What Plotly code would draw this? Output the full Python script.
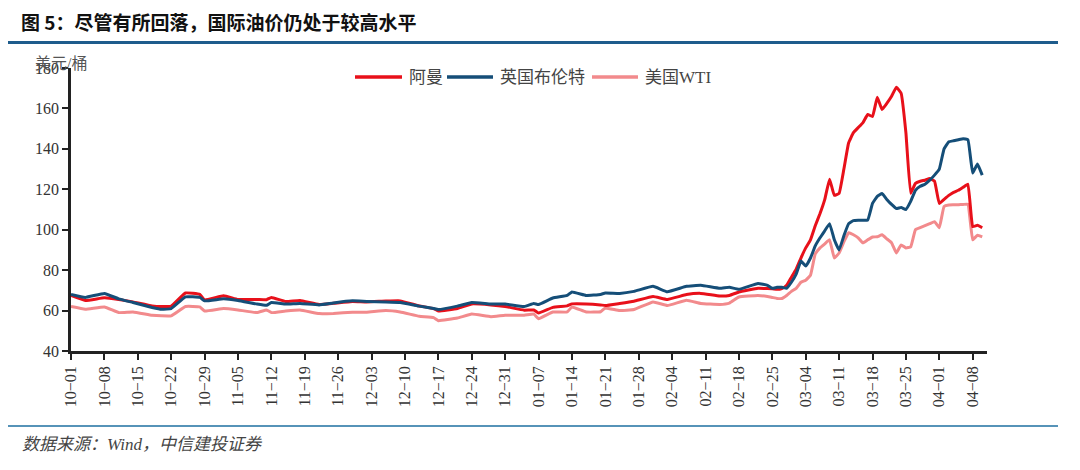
import plotly.graph_objects as go
import pandas as pd

# ---- data ----
dates = [
    "2021-10-01", "2021-10-04", "2021-10-08", "2021-10-11", "2021-10-14", "2021-10-18",
    "2021-10-20", "2021-10-22", "2021-10-25", "2021-10-28", "2021-10-29", "2021-11-02",
    "2021-11-05", "2021-11-09", "2021-11-11", "2021-11-12", "2021-11-15", "2021-11-18",
    "2021-11-22", "2021-11-25", "2021-11-29", "2021-12-02", "2021-12-06", "2021-12-09",
    "2021-12-13", "2021-12-16", "2021-12-17", "2021-12-21", "2021-12-24", "2021-12-28",
    "2021-12-31", "2022-01-04", "2022-01-06", "2022-01-07", "2022-01-10", "2022-01-13",
    "2022-01-14", "2022-01-17", "2022-01-20", "2022-01-21", "2022-01-24", "2022-01-27",
    "2022-01-31", "2022-02-03", "2022-02-07", "2022-02-10", "2022-02-14", "2022-02-16",
    "2022-02-18", "2022-02-22",
    "2022-02-24", "2022-02-25", "2022-02-26", "2022-02-27", "2022-02-28",
    "2022-03-01", "2022-03-02", "2022-03-03", "2022-03-04", "2022-03-05", "2022-03-06",
    "2022-03-07", "2022-03-08", "2022-03-09", "2022-03-10", "2022-03-11", "2022-03-12",
    "2022-03-13", "2022-03-14", "2022-03-15", "2022-03-16", "2022-03-17", "2022-03-18",
    "2022-03-19", "2022-03-20", "2022-03-21", "2022-03-22", "2022-03-23", "2022-03-24",
    "2022-03-25", "2022-03-26", "2022-03-27", "2022-03-28", "2022-03-29", "2022-03-30",
    "2022-03-31", "2022-04-01", "2022-04-02", "2022-04-03", "2022-04-04", "2022-04-05",
    "2022-04-06", "2022-04-07", "2022-04-08", "2022-04-09", "2022-04-10",
]

oman = [
    67.5, 65.0, 66.3, 65.5, 64.3, 62.3, 62.0, 62.2, 68.7, 68.0, 65.3, 67.3,
    65.5, 65.5, 65.4, 66.5, 64.5, 65.0, 63.0, 63.6, 64.5, 64.3, 64.7, 64.8,
    62.3, 61.0, 59.8, 61.0, 63.3, 62.8, 62.0, 60.2, 60.3, 58.8, 61.6, 62.3,
    63.3, 63.3, 62.8, 62.5, 63.5, 64.6, 67.0, 65.5, 67.9, 68.5, 67.2, 67.5,
    69.2, 71.0,
    70.9, 70.8, 70.5, 70.9, 72.5,
    76.5, 80.5, 86.0, 91.0, 95.0, 102.0,
    108.0, 115.0, 125.0, 117.0, 118.0, 130.0,
    143.0, 148.0, 150.5, 153.0, 157.0, 156.0,
    165.5, 159.5, 162.5, 166.0, 170.5, 167.5,
    148.0, 118.0, 122.9, 124.0, 124.5, 125.3,
    124.0, 113.0, 115.0, 117.0, 118.5, 119.5,
    121.0, 122.5, 101.5, 102.2, 101.0,
]

brent = [
    68.0, 66.5, 68.5, 65.8, 64.0, 61.5, 60.6, 61.0, 66.8, 66.5, 64.8, 65.8,
    65.0, 63.2, 62.6, 64.0, 63.2, 63.5, 62.8, 63.8, 64.8, 64.5, 64.3, 64.0,
    62.2, 61.0, 60.5, 62.2, 64.0, 63.2, 63.2, 62.0, 63.5, 63.0, 66.2, 67.5,
    69.2, 67.5, 68.0, 68.7, 68.5, 69.5, 72.0, 69.3, 72.0, 72.5, 71.0, 71.5,
    70.5, 73.4,
    72.5, 71.0, 71.5, 71.5, 71.0,
    74.0, 78.0, 84.5, 82.0, 86.0, 92.0,
    96.0, 99.5, 103.0, 95.0, 90.0, 97.0,
    103.0, 104.5, 104.7, 104.7, 104.8, 113.0,
    116.5, 117.9, 115.0, 112.5, 110.5, 111.0,
    110.0, 114.0, 119.5, 121.5, 122.5, 124.5,
    127.0, 130.0, 140.0, 143.5, 144.0, 144.5,
    145.0, 144.5, 128.0, 132.5, 127.0,
]

wti = [
    62.0, 60.7, 61.8, 59.0, 59.3, 57.7, 57.4, 57.4, 62.0, 61.8, 59.8, 61.0,
    60.3, 59.0, 60.3, 59.0, 59.8, 60.3, 58.5, 58.6, 59.2, 59.2, 60.0, 59.3,
    57.2, 56.5, 55.0, 56.3, 58.3, 57.0, 57.7, 57.7, 58.3, 56.0, 59.3, 59.3,
    61.8, 59.3, 59.4, 61.3, 60.0, 60.5, 64.3, 62.5, 65.1, 63.5, 63.0, 63.7,
    66.7, 67.5,
    67.0, 66.5, 66.0, 66.0, 67.5,
    69.5, 71.0, 74.0, 75.0, 77.5, 88.0,
    91.0, 93.0, 95.0, 86.0, 88.5, 94.0,
    98.5, 97.5, 96.0, 93.5, 95.0, 96.4,
    96.5, 97.5, 95.5, 93.5, 88.5, 92.5,
    91.0, 91.5, 100.0, 101.0, 102.0, 103.0,
    104.0, 101.0, 111.5, 112.2, 112.3, 112.4,
    112.5, 112.6, 95.0, 97.3, 96.5,
]

series_names = ["阿曼", "英国布伦特", "美国WTI"]
series_colors = ["#E8101A", "#154E78", "#F28A8C"]

# ---- figure ----
W, H = 1080, 470
L, R, T, B = 71, 93, 68, 119
pw, ph = W - L - R, H - T - B


def px_x(p):
    return (p - L) / pw


def px_y(p):
    return (H - B - p) / ph


FONT = "Liberation Serif, Noto Sans CJK SC"

fig = go.Figure()
x = pd.to_datetime(dates)
all_vals = [oman, brent, wti]
# draw order: WTI bottom, then Oman, then Brent on top (as in reference)
for i in [2, 0, 1]:
    fig.add_trace(go.Scatter(x=x, y=all_vals[i], mode="lines", name=series_names[i],
                             showlegend=False,
                             line=dict(color=series_colors[i], width=3,
                                       shape="spline", smoothing=0.3)))

fig.update_layout(
    width=W, height=H,
    margin=dict(l=L, r=R, t=T, b=B),
    paper_bgcolor="white", plot_bgcolor="white",
    font=dict(family=FONT, size=14, color="#333333"),
    showlegend=False,
    xaxis=dict(
        type="date",
        range=["2021-10-01", "2022-04-11"],
        tick0="2021-10-01", dtick=7 * 86400000, tickformat="%m\u2212%d",
        tickangle=-90, ticks="outside", ticklen=6, tickwidth=1.5, tickcolor="#222",
        showline=True, linecolor="#222", linewidth=2.5,
        showgrid=False, zeroline=False,
        tickfont=dict(size=16, color="#333", family=FONT),
    ),
    yaxis=dict(
        range=[40, 180], dtick=20, ticks="outside", ticklen=6, tickwidth=1.5, tickcolor="#222",
        showline=True, linecolor="#222", linewidth=2.5,
        showgrid=False, zeroline=False,
        tickfont=dict(size=16, color="#333", family=FONT),
    ),
)

# legend drawn by hand (longer line samples as in the reference)
legend_line_x = [(355, 402), (447, 493), (592, 638)]
legend_y = 77
for (x0, x1), name, col in zip(legend_line_x, series_names, series_colors):
    fig.add_shape(type="line", xref="paper", yref="paper",
                  x0=px_x(x0), x1=px_x(x1), y0=px_y(legend_y), y1=px_y(legend_y),
                  line=dict(color=col, width=3.5))
    fig.add_annotation(text=name, xref="paper", yref="paper",
                       x=px_x(x1 + 5), y=px_y(legend_y), xanchor="left", yanchor="middle",
                       showarrow=False, font=dict(size=17, color="#444", family=FONT))

# title, rules and notes
fig.add_annotation(text="<b>图 5：尽管有所回落，国际油价仍处于较高水平</b>",
                   xref="paper", yref="paper", x=px_x(19), y=px_y(22),
                   xanchor="left", yanchor="middle", showarrow=False,
                   font=dict(size=19, color="#111", family="Noto Sans CJK SC"))
fig.add_shape(type="line", xref="paper", yref="paper",
              x0=px_x(8), x1=px_x(1058), y0=px_y(42.5), y1=px_y(42.5),
              line=dict(color="#1E5C8C", width=3))
fig.add_shape(type="line", xref="paper", yref="paper",
              x0=px_x(8), x1=px_x(1058), y0=px_y(426), y1=px_y(426),
              line=dict(color="#1E6FA0", width=1.5))
fig.add_annotation(text="<i>数据来源：Wind，中信建投证券</i>",
                   xref="paper", yref="paper", x=px_x(20), y=px_y(444),
                   xanchor="left", yanchor="middle", showarrow=False,
                   font=dict(size=17, color="#444", family=FONT))
fig.add_annotation(text="美元/桶",
                   xref="paper", yref="paper", x=px_x(33), y=px_y(64),
                   xanchor="left", yanchor="middle", showarrow=False,
                   font=dict(size=16, color="#555", family=FONT))

fig.write_html("out.html", config={"displayModeBar": False},
               post_script="document.body.style.margin='0';")
